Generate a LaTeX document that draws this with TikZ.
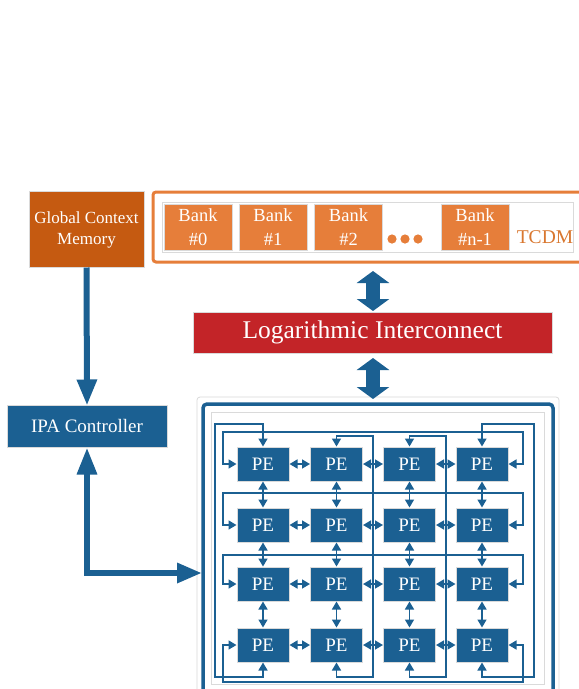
\documentclass[tikz,border=0pt]{standalone}
\usepackage{fontspec}
\setmainfont{Liberation Serif}
\newfontfamily\tnr{Liberation Serif}
\usetikzlibrary{arrows.meta}
\definecolor{gcmc}{HTML}{C55A11}
\definecolor{bankc}{HTML}{E67E3A}
\definecolor{tcdmtxt}{HTML}{D9772F}
\definecolor{redc}{HTML}{C32428}
\definecolor{bluec}{HTML}{1B6092}
\definecolor{shad}{HTML}{DADADA}
\tikzset{
  box/.style={draw=shad, line width=1pt, text=white, inner sep=0pt, align=center},
  gcmbox/.style={box, fill=gcmc, minimum width=115pt, minimum height=76pt, font=\tnr\fontsize{17}{21}\selectfont},
  bankbox/.style={box, fill=bankc, minimum width=68pt, minimum height=46pt, font=\tnr\fontsize{18.5}{24}\selectfont},
  logbox/.style={box, fill=redc, minimum width=359pt, minimum height=41pt, font=\tnr\fontsize{25.5}{30}\selectfont},
  ipabox/.style={box, fill=bluec, minimum width=160pt, minimum height=42pt, font=\tnr\fontsize{19}{22}\selectfont},
  pebox/.style={box, fill=bluec, minimum width=52pt, minimum height=34pt, font=\tnr\fontsize{19}{20}\selectfont},
  petip/.style={line width=1.6pt, draw=bluec, {Triangle[length=8pt,width=9pt]}-{Triangle[length=8pt,width=9pt]}},
  fatdouble/.style={line width=14pt, draw=bluec, {Triangle[length=12pt,width=32pt]}-{Triangle[length=12pt,width=32pt]}},
  thickarrow/.style={line width=6pt, draw=bluec, -{Triangle[length=26pt,width=19pt]}},
  thickdouble/.style={line width=6pt, draw=bluec, {Triangle[length=27pt,width=19pt]}-{Triangle[length=25pt,width=19pt]}},
}
\begin{document}
\begin{tikzpicture}[x=1pt,y=-1pt]
\useasboundingbox (0,0) rectangle (579,689);
\clip (0,0) rectangle (579,689);
\fill[white] (0,0) rectangle (579,689);

% Global context memory
\node[gcmbox] (gcm) at (86.5,229) {\rule{0pt}{14pt}Global Context\\Memory};

% TCDM
\node[draw=bankc, line width=3pt, rounded corners=3pt, minimum width=437pt, minimum height=70pt, inner sep=0pt] (tcdm) at (371.5,227) {};
\draw[shad, line width=0.8pt] (162,202) rectangle (573,252);
\node[bankbox] (b0) at (198,227) {Bank\\\#0};
\node[bankbox] (b1) at (273,227) {Bank\\\#1};
\node[bankbox] (b2) at (348.5,227) {Bank\\\#2};
\node[bankbox] (bn) at (475,227) {Bank\\\#n-1};
\foreach \x in {392,405,418} \fill[bankc] (\x,239) circle (4.6pt);
\node[text=tcdmtxt, font=\tnr\fontsize{19.5}{22}\selectfont, anchor=base, inner sep=0pt] (tcdmlabel) at (545,243) {TCDM};

% Logarithmic interconnect
\node[logbox] (log) at (372.5,332.5) {Logarithmic Interconnect};

% PE array container
\draw[shad, line width=0.8pt, rounded corners=3pt] (197,397) rectangle (559,720);
\node[draw=bluec, line width=3.5pt, rounded corners=4pt, minimum width=350pt, minimum height=300pt, inner sep=0pt] (pearr) at (378,554) {};
\draw[shad, line width=0.8pt] (211,412) rectangle (544,684);

% IPA controller
\node[ipabox] (ipa) at (87,426) {IPA Controller};

% fat arrows
\coordinate (fa1) at (373,262);
\coordinate (fa2) at (373,312);
\draw[fatdouble, shorten <=9pt, shorten >=1pt] (fa1) -- (fa2);
\coordinate (fb1) at (373,353);
\coordinate (fb2) at (373,404);
\draw[fatdouble, shorten <=5pt, shorten >=5pt] (fb1) -- (fb2);

\draw[thickarrow, shorten >=-1pt] (gcm.south) -- (ipa.north);
\coordinate (pin) at (203,573);
\draw[thickdouble, shorten >=1pt] (ipa.south) |- (pin);

% PEs
\foreach \r/\yy in {1/464,2/525,3/584,4/645}
  \foreach \c/\xx in {1/263,2/336.5,3/409.5,4/482}
    \node[pebox] (p\r\c) at (\xx,\yy) {PE};

% neighbour links
\foreach \r in {1,2,3,4}
  \foreach \c/\n in {1/2,2/3,3/4}
    \draw[petip] (p\r\c.east) -- (p\r\n.west);
\foreach \r/\n in {1/2,2/3,3/4}
  \foreach \c in {1,2,3,4}
    \draw[petip] (p\r\c.south) -- (p\n\c.north);

% row wrap-arounds
\draw[petip] (p11.west) -| (223,432) -| (523,464) -- (p14.east);
\draw[petip] (p21.west) -| (223,493) -| (523,525) -- (p24.east);
\draw[petip] (p31.west) -| (223,555) -| (523,584) -- (p34.east);
\draw[petip] (p41.west) -| (223,682) -| (523,645) -- (p44.east);

% column wrap-arounds
\draw[petip] (p11.north) |- (215,424) |- (263,677) -- (p41.south);
\draw[petip] (p12.north) |- (373,436) |- (336.5,677) -- (p42.south);
\draw[petip] (p13.north) |- (446,436) |- (409.5,677) -- (p43.south);
\draw[petip] (p14.north) |- (534,424) |- (482,677) -- (p44.south);
\end{tikzpicture}
\end{document}
